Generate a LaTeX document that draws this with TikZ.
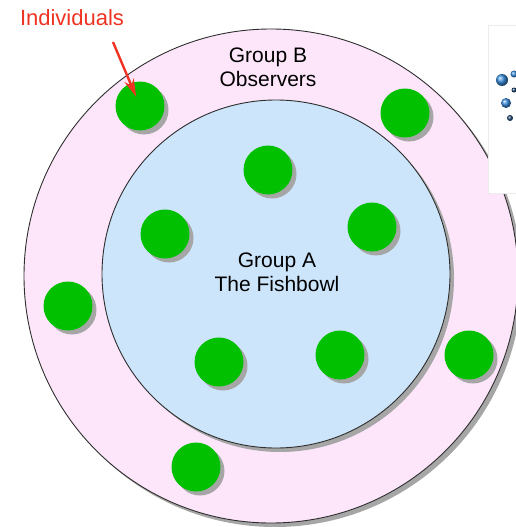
\documentclass[tikz,border=0pt]{standalone}
\usepackage{fontspec}
\setmainfont{Liberation Sans}
\usetikzlibrary{arrows.meta,shadows}
\definecolor{ring}{HTML}{FDE6FA}
\definecolor{bowl}{HTML}{CCE5FA}
\definecolor{dot}{HTML}{00C000}
\definecolor{shade}{HTML}{A6A6A6}
\definecolor{callout}{HTML}{EE3322}
\definecolor{edge}{HTML}{2E2E2E}
\definecolor{ballblue}{HTML}{3A8FE0}
\newcommand{\person}[3]{%
  \node[person] (#1) at (#2,#3) {};}

\begin{document}
\begin{tikzpicture}[x=1pt,y=-1pt,
  person/.style={circle, fill=dot, minimum size=49pt, inner sep=0pt,
    drop shadow={shadow xshift=4pt, shadow yshift=-4pt, fill=shade, opacity=1}},
  zone/.style={circle, draw=edge, line width=0.9pt, inner sep=0pt,
    drop shadow={shadow xshift=4pt, shadow yshift=-4pt, fill=shade, opacity=1}},
  caption/.style={align=center, font=\fontsize{21}{24}\selectfont},
  pointer/.style={callout, line width=2.4pt, -{Stealth[length=18pt,width=10pt]}}]
  \useasboundingbox (0,0) rectangle (516,527);
  % the two groups
  \node[zone, fill=ring, minimum size=494pt] (observers) at (271,276) {};
  \node[zone, fill=bowl, minimum size=348pt] (bowl) at (276,274) {};
  \node[caption] (obslabel) at (268,67) {Group B\\Observers};
  \node[caption] (bowllabel) at (277,272) {Group A\\The Fishbowl};
  % individuals
  \person{p1}{140}{106}
  \person{p2}{405}{113}
  \person{p3}{268}{170}
  \person{p4}{165}{234}
  \person{p5}{372}{227}
  \person{p6}{68}{306}
  \person{p7}{219}{362}
  \person{p8}{340}{355}
  \person{p9}{469}{355}
  \person{p10}{196}{467}
  % cut-off picture at the right edge
  \draw[gray!15, fill=white] (488,25) rectangle (524,193);
  \shade[ball color=ballblue] (502,80) circle[radius=6];
  \shade[ball color=ballblue] (514,74) circle[radius=3.5];
  \shade[ball color=ballblue] (506,103) circle[radius=5];
  \shade[ball color=ballblue!50!black] (514,90) circle[radius=2.5];
  \shade[ball color=ballblue!50!black] (510,118) circle[radius=3];
  % callout
  \node[text=callout, font=\fontsize{22}{24}\selectfont] (lbl) at (72,18) {Individuals};
  \coordinate (tail) at (113,42);
  \draw[pointer, shorten >=10pt] (tail) -- (p1.center);
\end{tikzpicture}
\end{document}
